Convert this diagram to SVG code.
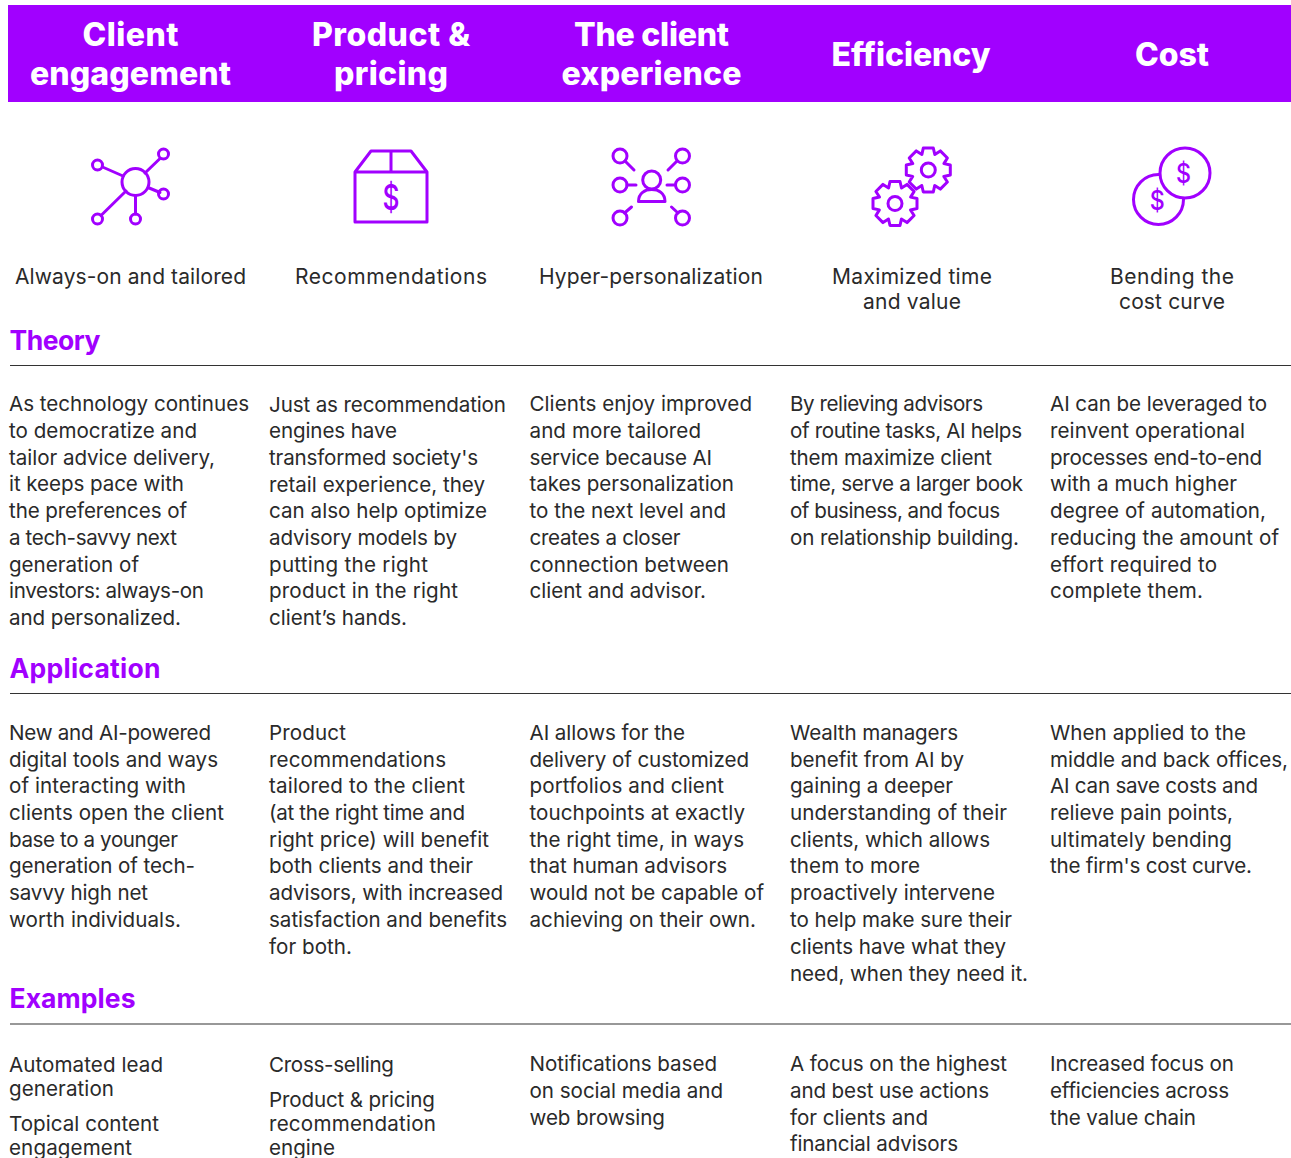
<svg xmlns="http://www.w3.org/2000/svg" xmlns:xlink="http://www.w3.org/1999/xlink" width="1291" height="1158" viewBox="0 0 1291 1158">
<style>
text{font-family:Inter,"Liberation Sans",sans-serif}
.h{font-size:32px;font-weight:800;fill:#fff;text-anchor:middle}
.l{font-size:21px;fill:#2a2a2a;text-anchor:middle}
.b{font-size:20.6px;fill:#2a2a2a}
.s{font-size:26.500px;font-weight:700;fill:#a100ff}
.r{stroke:#333;stroke-width:1.2;fill:none}
.i{fill:none;stroke:#a100ff;stroke-width:3;stroke-linecap:round;stroke-linejoin:round}
.w{fill:#fff;stroke:#a100ff;stroke-width:3;stroke-linejoin:round}
.d{font-size:31px;font-weight:500;fill:#a100ff;text-anchor:middle}
</style>
<defs>
<g id="gear"><polygon class="w" points="-5,-22 5,-22 6.500,-15.500 12,-19.100 19.100,-12 15.600,-6.400 22,-5 22,5 15.500,6.500 19.100,12 12,19.100 6.400,15.600 5,22 -5,22 -6.500,15.500 -12,19.100 -19.100,12 -15.600,6.400 -22,5 -22,-5 -15.500,-6.500 -19.100,-12 -12,-19.100 -6.400,-15.600"/><circle class="i" r="7"/></g>
</defs>
<rect id="header-bar" x="8" y="5" width="1283" height="97" fill="#a100ff"/>
<g id="head-client"><text class="h" x="130.500" y="46" textLength="96">Client</text><text class="h" x="130.500" y="85" textLength="201">engagement</text></g>
<g id="head-product"><text class="h" x="391" y="46" textLength="158">Product &amp;</text><text class="h" x="391" y="85" textLength="114">pricing</text></g>
<g id="head-experience"><text class="h" x="651.500" y="46" textLength="155">The client</text><text class="h" x="651.500" y="85" textLength="180">experience</text></g>
<g id="head-efficiency"><text class="h" x="911" y="66" textLength="159">Efficiency</text></g>
<g id="head-cost"><text class="h" x="1172" y="66" textLength="74">Cost</text></g>

<g id="icon-hub">
<path class="i" d="M102.500 167L123 176M159.500 159L145 173M160 192.500L148 187.500M101 215.500L126 191M135.500 196V214"/>
<circle class="i" cx="135.500" cy="182" r="13.500"/>
<circle class="i" cx="97.500" cy="165" r="5"/><circle class="i" cx="163.500" cy="154" r="5"/><circle class="i" cx="163.500" cy="194" r="5"/><circle class="i" cx="97.500" cy="219" r="5"/><circle class="i" cx="135.500" cy="219" r="5"/>
</g>
<g id="icon-box">
<path class="i" d="M355 172H427V222H355ZM355 172L371 151H411L427 172M391 151V172"/>
<text class="d" transform="translate(391 209.500) scale(.85 1.15)">$</text>
</g>
<g id="icon-person">
<circle class="i" cx="620" cy="156" r="7"/><circle class="i" cx="682.500" cy="156" r="7"/><circle class="i" cx="620" cy="185" r="7"/><circle class="i" cx="682.500" cy="185" r="7"/><circle class="i" cx="620" cy="218" r="7"/><circle class="i" cx="682.500" cy="218" r="7"/>
<path class="i" d="M625 161L634 170M677 161L668 170M627 185H636M675 185H667M624.500 213L631.500 207M678 213L671.500 207"/>
<circle class="i" cx="651.700" cy="180" r="9"/>
<path class="i" d="M638.500 201.500C638.500 193 645 189.500 651.700 189.500C658.500 189.500 665 193 665 201.500Z"/>
</g>
<g id="icon-gears">
<use xlink:href="#gear" href="#gear" x="895" y="203.500"/>
<use xlink:href="#gear" href="#gear" x="928.300" y="170"/>
</g>
<g id="icon-coins">
<circle class="w" cx="1158.500" cy="199.500" r="25"/>
<text class="d" transform="translate(1157.300 209.600) scale(.75 .87)">$</text>
<circle class="w" cx="1185" cy="173" r="25"/>
<text class="d" transform="translate(1183.500 182.600) scale(.75 .87)">$</text>
</g>

<g id="labels">
<text class="l" x="130.500" y="284" textLength="231">Always-on and tailored</text>
<text class="l" x="391" y="284" textLength="192">Recommendations</text>
<text class="l" x="651" y="284" textLength="224">Hyper-personalization</text>
<text class="l" x="912" y="284" textLength="160">Maximized time</text><text class="l" x="912" y="309" textLength="98">and value</text>
<text class="l" x="1172" y="284" textLength="124">Bending the</text><text class="l" x="1172" y="309" textLength="106">cost curve</text>
</g>

<g id="sections">
<text class="s" x="9.500" y="350" textLength="91">Theory</text><path class="r" d="M10 365.500H1291"/>
<text class="s" x="9.500" y="678" textLength="151">Application</text><path class="r" d="M10 693.500H1291"/>
<text class="s" x="9.500" y="1008" textLength="126">Examples</text><path class="r" d="M10 1024H1291"/>
</g>

<g id="theory">
<g><text class="b" x="9" y="411" textLength="240">As technology continues</text><text class="b" x="9" y="438" textLength="188">to democratize and</text><text class="b" x="9" y="465" textLength="206">tailor advice delivery,</text><text class="b" x="9" y="491" textLength="175">it keeps pace with</text><text class="b" x="9" y="518" textLength="178">the preferences of</text><text class="b" x="9" y="545" textLength="168">a tech-savvy next</text><text class="b" x="9" y="572" textLength="130">generation of</text><text class="b" x="9" y="598" textLength="195">investors: always-on</text><text class="b" x="9" y="625" textLength="172">and personalized.</text></g>
<g><text class="b" x="269" y="412" textLength="237">Just as recommendation</text><text class="b" x="269" y="438" textLength="128">engines have</text><text class="b" x="269" y="465" textLength="209">transformed society's</text><text class="b" x="269" y="492" textLength="216">retail experience, they</text><text class="b" x="269" y="518" textLength="218">can also help optimize</text><text class="b" x="269" y="545" textLength="188">advisory models by</text><text class="b" x="269" y="572" textLength="159">putting the right</text><text class="b" x="269" y="598" textLength="189">product in the right</text><text class="b" x="269" y="625" textLength="138">client’s hands.</text></g>
<g><text class="b" x="529.500" y="411" textLength="222.500">Clients enjoy improved</text><text class="b" x="529.500" y="438" textLength="171.500">and more tailored</text><text class="b" x="529.500" y="465" textLength="182.500">service because AI</text><text class="b" x="529.500" y="491" textLength="204.500">takes personalization</text><text class="b" x="529.500" y="518" textLength="196.500">to the next level and</text><text class="b" x="529.500" y="545" textLength="151">creates a closer</text><text class="b" x="529.500" y="572" textLength="199.500">connection between</text><text class="b" x="529.500" y="598" textLength="176.500">client and advisor.</text></g>
<g><text class="b" x="790" y="411" textLength="193">By relieving advisors</text><text class="b" x="790" y="438" textLength="232">of routine tasks, AI helps</text><text class="b" x="790" y="465" textLength="202">them maximize client</text><text class="b" x="790" y="491" textLength="233">time, serve a larger book</text><text class="b" x="790" y="518" textLength="210">of business, and focus</text><text class="b" x="790" y="545" textLength="229">on relationship building.</text></g>
<g><text class="b" x="1050" y="411" textLength="217">AI can be leveraged to</text><text class="b" x="1050" y="438" textLength="195">reinvent operational</text><text class="b" x="1050" y="465" textLength="212">processes end-to-end</text><text class="b" x="1050" y="491" textLength="187">with a much higher</text><text class="b" x="1050" y="518" textLength="216">degree of automation,</text><text class="b" x="1050" y="545" textLength="229">reducing the amount of</text><text class="b" x="1050" y="572" textLength="167">effort required to</text><text class="b" x="1050" y="598" textLength="153">complete them.</text></g>
</g>

<g id="application">
<g><text class="b" x="9" y="740" textLength="202">New and AI-powered</text><text class="b" x="9" y="767" textLength="209">digital tools and ways</text><text class="b" x="9" y="793" textLength="177">of interacting with</text><text class="b" x="9" y="820" textLength="215">clients open the client</text><text class="b" x="9" y="847" textLength="169">base to a younger</text><text class="b" x="9" y="873" textLength="186">generation of tech-</text><text class="b" x="9" y="900" textLength="139">savvy high net</text><text class="b" x="9" y="927" textLength="172">worth individuals.</text></g>
<g><text class="b" x="269" y="740" textLength="77">Product</text><text class="b" x="269" y="767" textLength="177">recommendations</text><text class="b" x="269" y="793" textLength="196">tailored to the client</text><text class="b" x="269" y="820" textLength="196">(at the right time and</text><text class="b" x="269" y="847" textLength="220">right price) will benefit</text><text class="b" x="269" y="873" textLength="204">both clients and their</text><text class="b" x="269" y="900" textLength="234">advisors, with increased</text><text class="b" x="269" y="927" textLength="238">satisfaction and benefits</text><text class="b" x="269" y="954" textLength="83">for both.</text></g>
<g><text class="b" x="529.500" y="740" textLength="155.500">AI allows for the</text><text class="b" x="529.500" y="767" textLength="219.500">delivery of customized</text><text class="b" x="529.500" y="793" textLength="194.500">portfolios and client</text><text class="b" x="529.500" y="820" textLength="215.500">touchpoints at exactly</text><text class="b" x="529.500" y="847" textLength="214.500">the right time, in ways</text><text class="b" x="529.500" y="873" textLength="197.500">that human advisors</text><text class="b" x="529.500" y="900" textLength="234.500">would not be capable of</text><text class="b" x="529.500" y="927" textLength="226.500">achieving on their own.</text></g>
<g><text class="b" x="790" y="740" textLength="168">Wealth managers</text><text class="b" x="790" y="767" textLength="174">benefit from AI by</text><text class="b" x="790" y="793" textLength="163">gaining a deeper</text><text class="b" x="790" y="820" textLength="217">understanding of their</text><text class="b" x="790" y="847" textLength="200">clients, which allows</text><text class="b" x="790" y="873" textLength="130">them to more</text><text class="b" x="790" y="900" textLength="205">proactively intervene</text><text class="b" x="790" y="927" textLength="222">to help make sure their</text><text class="b" x="790" y="954" textLength="216">clients have what they</text><text class="b" x="790" y="981" textLength="238">need, when they need it.</text></g>
<g><text class="b" x="1050" y="740" textLength="196">When applied to the</text><text class="b" x="1050" y="767" textLength="238">middle and back offices,</text><text class="b" x="1050" y="793" textLength="208">AI can save costs and</text><text class="b" x="1050" y="820" textLength="183">relieve pain points,</text><text class="b" x="1050" y="847" textLength="182">ultimately bending</text><text class="b" x="1050" y="873" textLength="202">the firm's cost curve.</text></g>
</g>

<g id="examples">
<g><text class="b" x="9" y="1072" textLength="154">Automated lead</text><text class="b" x="9" y="1096" textLength="105">generation</text><text class="b" x="9" y="1131" textLength="150">Topical content</text><text class="b" x="9" y="1155" textLength="123">engagement</text></g>
<g><text class="b" x="269" y="1072" textLength="125">Cross-selling</text><text class="b" x="269" y="1107" textLength="166">Product &amp; pricing</text><text class="b" x="269" y="1131" textLength="167">recommendation</text><text class="b" x="269" y="1155" textLength="66">engine</text></g>
<g><text class="b" x="529.500" y="1071" textLength="187.500">Notifications based</text><text class="b" x="529.500" y="1098" textLength="193.500">on social media and</text><text class="b" x="529.500" y="1125" textLength="135.500">web browsing</text></g>
<g><text class="b" x="790" y="1071" textLength="217">A focus on the highest</text><text class="b" x="790" y="1098" textLength="199">and best use actions</text><text class="b" x="790" y="1125" textLength="138">for clients and</text><text class="b" x="790" y="1151" textLength="168">financial advisors</text></g>
<g><text class="b" x="1050" y="1071" textLength="184">Increased focus on</text><text class="b" x="1050" y="1098" textLength="179">efficiencies across</text><text class="b" x="1050" y="1125" textLength="146">the value chain</text></g>
</g>
</svg>
